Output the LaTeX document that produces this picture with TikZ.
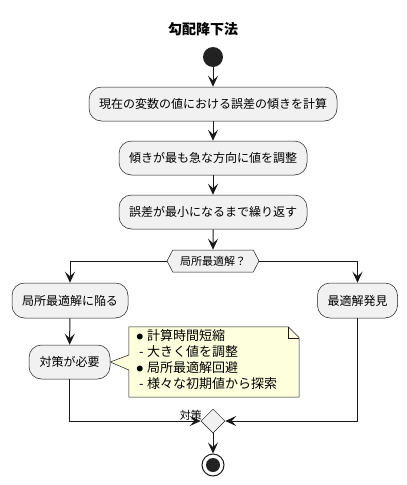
\documentclass[tikz,border=0pt]{standalone}
\usepackage{fontspec}
\setmainfont{Noto Sans CJK JP}
\usetikzlibrary{arrows.meta,shapes.geometric,shapes.symbols,calc}
\definecolor{boxfill}{HTML}{F1F1F1}
\definecolor{boxline}{HTML}{181818}
\definecolor{dot}{HTML}{222222}
\definecolor{notefill}{HTML}{FEFFDD}
\newcommand\notebul{\makebox[10.5pt][l]{\raisebox{1.2pt}{\fontsize{6.5}{6.5}\selectfont ●}}}
\newcommand\notedash{\makebox[10.5pt][l]{\hspace{2.5pt}-}}
\tikzset{
  act/.style={draw=boxline, line width=0.5pt, fill=boxfill, rounded corners=12.5pt,
    minimum height=34pt, inner sep=0pt, font=\fontsize{12}{14}\selectfont},
  conn/.style={draw=black!90, line width=1pt, -{Stealth[length=11pt,width=10pt,inset=4.5pt]}},
  hexa/.style={draw=boxline, line width=0.5pt, fill=boxfill, signal, signal to=east and west,
    signal pointer angle=125, minimum width=92pt, minimum height=22pt, inner sep=0pt,
    font=\fontsize{11}{13}\selectfont},
  merge/.style={draw=boxline, line width=0.5pt, fill=boxfill, diamond, minimum width=24pt,
    minimum height=24pt, inner sep=0pt},
  notetext/.style={align=left, inner sep=0pt, font=\fontsize{13}{16}\selectfont},
}
\begin{document}
\begin{tikzpicture}[x=1pt,y=-1pt]
\useasboundingbox (0,0) rectangle (407,485);
\node[font=\fontsize{14}{16}\selectfont\bfseries] (title) at (203,29) {勾配降下法};
\node[circle, fill=dot, minimum size=20pt, inner sep=0pt] (start) at (213,57) {};
\node[act, minimum width=248pt] (a1) at (213,104) {現在の変数の値における誤差の傾きを計算};
\node[act, minimum width=188pt] (a2) at (213,158) {傾きが最も急な方向に値を調整};
\node[act, minimum width=188pt] (a3) at (213,212) {誤差が最小になるまで繰り返す};
\node[hexa] (q) at (213,261) {局所最適解？};
\node[act, minimum width=116pt, minimum height=35pt] (l1) at (70,300.5) {局所最適解に陥る};
\node[act, minimum width=80pt, minimum height=35pt] (r1) at (357.5,300.5) {最適解発見};
\node[act, minimum width=81pt] (l2) at (69.5,362) {対策が必要};
\node[merge] (m) at (213,421) {};
\node[circle, draw=black!90, line width=1pt, fill=white, minimum size=22pt, inner sep=0pt] (end) at (213,465) {};
\node[circle, fill=dot, minimum size=14pt, inner sep=0pt] (endin) at (end.center) {};
% note
\node[minimum width=170pt, minimum height=70pt, inner sep=0pt] (note) at (214,362) {};
\draw[draw=boxline, line width=0.5pt, fill=notefill]
  (note.north west) -- ($(note.north east)+(-11,0)$) -- ($(note.north east)+(0,11)$)
  -- (note.south east) -- (note.south west) -- ($(note.west)+(0,8)$) -- (l2.east)
  -- ($(note.west)+(0,-7)$) -- cycle;
\draw[draw=boxline, line width=0.5pt]
  ($(note.north east)+(-11,0)$) -- ($(note.north east)+(-11,11)$) -- ($(note.north east)+(0,11)$);
\node[notetext, anchor=north west] (nt) at (136.5,329.5)
  {\notebul 計算時間短縮\\\notedash 大きく値を調整\\\notebul 局所最適解回避\\\notedash 様々な初期値から探索};
% connectors
\draw[conn] (start) -- (a1);
\draw[conn] (a1) -- (a2);
\draw[conn] (a2) -- (a3);
\draw[conn] (a3) -- (q);
\draw[conn] (q.west) -| (l1.north);
\draw[conn] (q.east) -| (r1.north);
\draw[conn] (l1) -- (l2);
\draw[conn] (l2.south) |- (m.west);
\draw[conn] (r1.south) |- (m.east);
\draw[conn] (m.south) -- (end.north);
\node[font=\fontsize{11}{13}\selectfont, anchor=south east, inner sep=0pt] (lbl) at (202,421) {対策};
\end{tikzpicture}
\end{document}
